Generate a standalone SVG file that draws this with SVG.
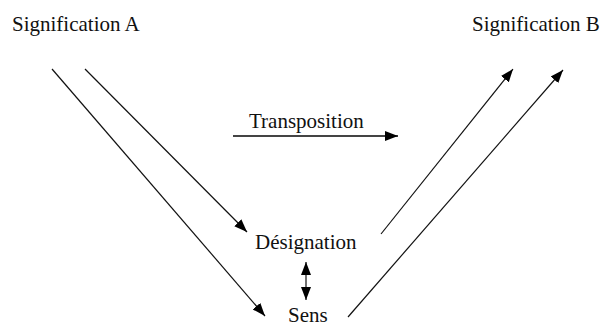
<svg xmlns="http://www.w3.org/2000/svg" width="604" height="327" viewBox="0 0 604 327">
<style>
.c{stroke:#111;stroke-width:1.2;fill:none}
.t{stroke:#444;stroke-width:2;fill:none}
</style>
<defs>
<marker id="ah" markerUnits="userSpaceOnUse" markerWidth="14" markerHeight="12" refX="13" refY="5" orient="auto-start-reverse" viewBox="0 0 14 10">
<path d="M0,0 L13,5 L0,10 Z" fill="#000"/>
</marker>
</defs>
<rect width="604" height="327" fill="#fff"/>
<g font-family="Liberation Serif, DejaVu Serif, serif" font-size="21" fill="#111">
<g id="sigA"><text x="12" y="31">Signification A</text></g>
<g id="sigB"><text x="472" y="31">Signification B</text></g>
<g id="designation"><text x="255" y="249">Désignation</text></g>
<g id="sens"><text x="288" y="322">Sens</text></g>
<g id="transposition"><text x="249" y="128">Transposition</text></g>
</g>
<g id="connectors">
<line class="c" x1="52" y1="69" x2="265" y2="316" marker-end="url(#ah)"/>
<line class="c" x1="85" y1="69" x2="247" y2="232" marker-end="url(#ah)"/>
<line class="c" x1="381" y1="234" x2="513" y2="69" marker-end="url(#ah)"/>
<line class="c" x1="348" y1="317" x2="563" y2="70" marker-end="url(#ah)"/>
<line class="t" x1="233" y1="136" x2="398" y2="136" marker-end="url(#ah)"/>
<line class="c" x1="306" y1="262" x2="306" y2="300" marker-start="url(#ah)" marker-end="url(#ah)"/>
</g>
</svg>
